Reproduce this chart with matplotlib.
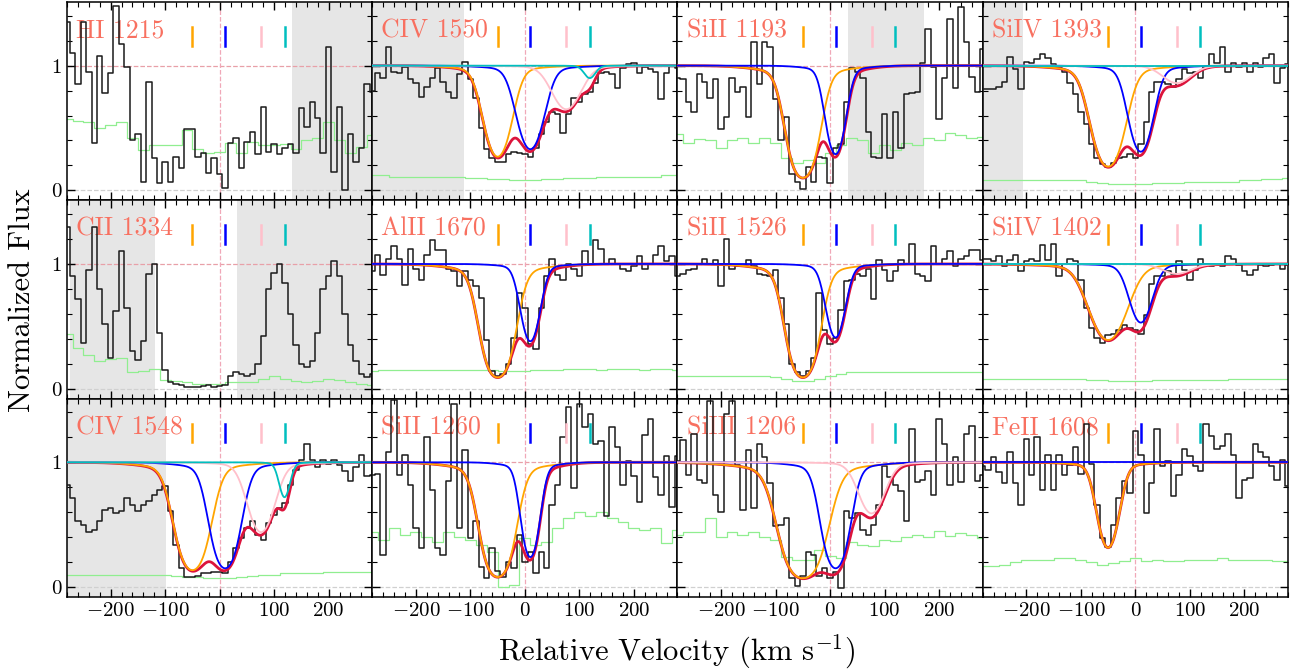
import numpy as np
import matplotlib
matplotlib.use("Agg")
import matplotlib.pyplot as plt
from matplotlib.ticker import MultipleLocator

plt.rcParams['font.family'] = 'cmr10'
plt.rcParams['mathtext.fontset'] = 'cm'
plt.rcParams['axes.formatter.use_mathtext'] = True

# velocity bins of the spectra (km/s)
VEL = np.arange(-280, 281, 10)
VEL_ERR = np.arange(-280, 281, 20)

# component velocities and colours (tick marks + fit components)
COMP_V = [-50, 10, 76, 119]
COMP_COLORS = ['orange', 'blue', 'pink', 'c']

# normalized flux, one list per transition
HI1215_FLUX = [1.35, 1.10, 0.85, 1.35, 0.95, 0.38, 1.08, 0.78, 0.94, 1.48, 1.17, 0.99, 0.40, 0.45, 0.07, 0.87, 0.26, 0.06, 0.23,
               0.07, 0.27, 0.18, 0.49, 0.49, 0.27, 0.30, 0.14, 0.26, 0.13, 0.02, 0.38, 0.42, 0.18, 0.39, 0.47, 0.29, 0.67, 0.31,
               0.37, 0.29, 0.34, 0.37, 0.30, 0.66, 0.51, 0.71, 0.58, 0.30, 1.15, 0.15, 0.67, 0.00, 0.45, 0.23, 0.34, 0.85, 0.79]
CIV1550_FLUX = [0.80, 0.94, 0.90, 1.15, 0.95, 0.94, 0.99, 0.89, 0.86, 0.75, 0.83, 0.90, 0.98, 0.87, 0.79, 0.74, 0.93, 1.03, 0.89,
                0.74, 0.50, 0.33, 0.26, 0.23, 0.23, 0.29, 0.31, 0.30, 0.29, 0.27, 0.34, 0.45, 0.55, 0.63, 0.61, 0.46, 0.61, 0.74,
                0.71, 0.77, 0.79, 0.86, 0.94, 0.95, 0.93, 0.82, 0.98, 1.01, 1.02, 0.94, 0.99, 0.97, 0.95, 0.73, 0.94, 1.00, 0.98]
SiII1193_FLUX = [0.90, 0.89, 0.71, 0.63, 0.93, 0.87, 0.74, 0.89, 0.49, 0.59, 0.90, 0.79, 0.83, 0.59, 1.19, 0.85, 1.19, 1.15, 0.73,
                 0.40, 0.59, 0.13, 0.07, 0.01, 0.19, 0.07, 0.27, 0.26, 0.06, 0.34, 0.37, 0.71, 0.98, 0.95, 0.90, 0.47, 0.27, 0.26,
                 0.61, 0.26, 0.63, 0.34, 0.77, 0.78, 0.79, 1.02, 1.29, 0.99, 0.57, 0.90, 1.37, 0.82, 1.47, 1.19, 0.91, 0.79, 1.13]
SiIV1393_FLUX = [0.81, 0.81, 0.81, 0.83, 0.87, 1.07, 0.97, 0.81, 1.03, 1.02, 1.05, 1.09, 1.06, 1.01, 0.98, 0.95, 0.86, 0.77, 0.63,
                 0.53, 0.37, 0.26, 0.21, 0.19, 0.22, 0.26, 0.27, 0.29, 0.26, 0.37, 0.55, 0.79, 0.87, 0.87, 0.85, 0.83, 0.89, 0.97,
                 0.94, 0.95, 0.90, 0.99, 1.09, 1.02, 1.15, 0.95, 1.02, 0.99, 1.02, 0.95, 1.02, 0.99, 1.06, 1.09, 0.86, 0.98, 1.01]
CII1334_FLUX = [1.30, 0.90, 0.72, 0.37, 0.95, 1.30, 0.80, 0.52, 0.25, 0.62, 1.10, 0.65, 0.30, 0.23, 0.38, 0.92, 1.00, 0.45, 0.15,
                0.05, 0.04, 0.03, 0.01, 0.01, 0.01, 0.02, 0.03, 0.01, 0.02, 0.03, 0.10, 0.13, 0.12, 0.10, 0.12, 0.20, 0.42, 0.80,
                0.93, 1.00, 0.85, 0.60, 0.35, 0.20, 0.17, 0.22, 0.45, 0.80, 0.90, 1.02, 0.90, 0.60, 0.35, 0.22, 0.12, 0.09, 0.12]
AlII1670_FLUX = [0.94, 1.07, 0.91, 1.04, 1.14, 1.04, 0.83, 1.12, 0.96, 0.87, 1.07, 1.19, 1.11, 1.11, 0.96, 0.94, 0.82, 0.94, 0.87,
                 0.82, 0.73, 0.39, 0.14, 0.10, 0.12, 0.20, 0.41, 0.77, 0.65, 0.36, 0.32, 0.65, 0.90, 1.04, 0.91, 0.87, 1.00, 0.96,
                 0.90, 1.10, 1.00, 1.19, 1.12, 1.00, 1.04, 1.00, 0.96, 0.94, 0.98, 1.06, 0.96, 1.00, 1.07, 1.14, 1.02, 1.06, 0.90]
SiII1526_FLUX = [0.90, 0.92, 0.95, 0.96, 1.00, 1.04, 1.00, 1.03, 0.82, 1.20, 0.96, 0.98, 0.98, 1.03, 0.98, 0.92, 0.91, 0.90, 0.95,
                 0.73, 0.52, 0.20, 0.13, 0.10, 0.14, 0.25, 0.77, 0.47, 0.36, 0.41, 0.63, 0.86, 0.87, 0.92, 0.90, 0.96, 0.72, 1.03,
                 0.95, 0.86, 0.94, 1.03, 1.00, 1.16, 0.92, 0.90, 0.86, 1.14, 1.00, 1.04, 1.10, 0.98, 1.04, 1.06, 1.11, 1.11, 1.03]
SiIV1402_FLUX = [1.04, 1.04, 1.02, 1.06, 0.98, 1.03, 1.07, 0.94, 1.02, 1.04, 1.02, 1.15, 1.03, 1.16, 0.90, 1.00, 1.04, 1.02, 0.87,
                 0.65, 0.49, 0.41, 0.37, 0.43, 0.44, 0.47, 0.51, 0.49, 0.47, 0.44, 0.59, 0.84, 0.90, 0.90, 0.94, 0.92, 1.02, 0.95,
                 0.87, 0.95, 1.04, 1.00, 0.98, 0.99, 0.98, 1.06, 1.04, 0.99, 0.94, 0.91, 0.95, 0.99, 0.98, 0.99, 1.00, 0.96, 0.99]
CIV1548_FLUX = [0.82, 0.71, 0.53, 0.50, 0.44, 0.46, 0.53, 0.62, 0.63, 0.59, 0.61, 0.71, 0.66, 0.61, 0.66, 0.69, 0.74, 0.78, 0.81,
                0.61, 0.34, 0.15, 0.08, 0.08, 0.09, 0.11, 0.11, 0.12, 0.12, 0.11, 0.20, 0.31, 0.39, 0.47, 0.53, 0.42, 0.38, 0.51,
                0.58, 0.63, 0.67, 0.82, 0.94, 1.02, 1.15, 1.02, 0.96, 1.02, 0.99, 1.02, 0.98, 0.93, 0.85, 0.96, 1.06, 0.89, 0.90]
SiII1260_FLUX = [0.90, 0.91, 0.26, 1.08, 1.50, 0.90, 1.06, 0.82, 0.47, 0.31, 1.20, 0.78, 0.31, 0.26, 0.85, 1.47, 0.47, 1.10, 0.39,
                 0.53, 0.16, 0.07, 0.31, 0.13, 0.08, 0.20, 0.15, 0.42, 0.20, 0.28, 0.11, 0.28, 0.15, 0.66, 0.82, 1.20, 1.44, 0.79,
                 1.47, 1.28, 1.39, 1.15, 1.17, 0.57, 1.28, 1.12, 0.82, 1.01, 0.89, 0.68, 1.22, 1.35, 0.88, 0.74, 1.05, 0.64, 1.05]
SiIII1206_FLUX = [1.01, 1.18, 0.90, 1.23, 0.86, 0.83, 1.49, 0.74, 0.60, 1.39, 1.49, 0.98, 0.62, 1.10, 0.63, 1.15, 1.04, 0.83, 0.49,
                  0.50, 0.55, 0.07, 0.01, 0.09, 0.28, 0.26, 0.09, 0.15, 0.07, 0.12, -0.01, 0.61, 0.55, 0.59, 0.46, 0.42, 0.50, 0.66,
                  0.97, 0.88, 0.82, 0.77, 0.53, 1.27, 0.84, 0.86, 0.93, 0.74, 1.35, 1.15, 0.82, 1.04, 0.84, 1.23, 1.29, 0.85, 0.90]
FeII1608_FLUX = [0.97, 0.94, 1.04, 0.92, 0.83, 1.08, 0.83, 0.66, 1.19, 0.90, 1.20, 0.78, 1.06, 0.78, 1.06, 0.90, 0.98, 1.12, 0.91,
                 1.31, 0.99, 0.66, 0.39, 0.32, 0.50, 0.71, 0.85, 0.75, 1.25, 1.06, 0.59, 0.83, 1.27, 0.97, 1.01, 0.73, 0.90, 1.11,
                 1.05, 0.97, 0.93, 1.31, 1.21, 1.11, 1.13, 1.23, 1.06, 0.71, 0.86, 0.87, 1.15, 1.08, 1.04, 0.97, 0.86, 1.02, 0.81]

# flux errors (20 km/s bins)
HI1215_ERR = [0.57, 0.56, 0.55, 0.50, 0.52, 0.55, 0.42, 0.32, 0.36, 0.36, 0.36, 0.48, 0.33, 0.30, 0.31,
              0.38, 0.30, 0.39, 0.36, 0.36, 0.37, 0.33, 0.40, 0.42, 0.55, 0.40, 0.30, 0.35, 0.44]
CIV1550_ERR = [0.12, 0.12, 0.11, 0.11, 0.11, 0.11, 0.11, 0.11, 0.11, 0.10, 0.10, 0.09, 0.09, 0.08, 0.08,
               0.08, 0.09, 0.09, 0.10, 0.10, 0.10, 0.11, 0.11, 0.11, 0.11, 0.11, 0.11, 0.12, 0.12]
SiII1193_ERR = [0.45, 0.38, 0.41, 0.40, 0.34, 0.40, 0.42, 0.38, 0.42, 0.38, 0.26, 0.22, 0.24, 0.22, 0.30,
                0.36, 0.42, 0.40, 0.30, 0.36, 0.32, 0.38, 0.36, 0.42, 0.40, 0.46, 0.44, 0.42, 0.43]
SiIV1393_ERR = [0.08, 0.08, 0.08, 0.08, 0.08, 0.08, 0.08, 0.08, 0.08, 0.08, 0.07, 0.06, 0.05, 0.05, 0.05,
                0.05, 0.06, 0.06, 0.06, 0.07, 0.07, 0.07, 0.07, 0.07, 0.08, 0.08, 0.09, 0.09, 0.10]
CII1334_ERR = [0.44, 0.33, 0.27, 0.22, 0.24, 0.25, 0.13, 0.14, 0.16, 0.07, 0.06, 0.05, 0.04, 0.04, 0.04,
               0.05, 0.05, 0.05, 0.08, 0.10, 0.08, 0.06, 0.05, 0.06, 0.08, 0.07, 0.05, 0.04, 0.03]
AlII1670_ERR = [0.14, 0.15, 0.15, 0.15, 0.15, 0.15, 0.15, 0.15, 0.15, 0.15, 0.15, 0.15, 0.14, 0.14, 0.14,
                0.15, 0.15, 0.15, 0.16, 0.16, 0.16, 0.15, 0.16, 0.16, 0.16, 0.15, 0.16, 0.16, 0.15]
SiII1526_ERR = [0.10, 0.10, 0.10, 0.10, 0.10, 0.10, 0.10, 0.10, 0.10, 0.09, 0.08, 0.06, 0.06, 0.08, 0.10,
                0.12, 0.13, 0.13, 0.13, 0.13, 0.13, 0.13, 0.13, 0.13, 0.13, 0.13, 0.13, 0.13, 0.13]
SiIV1402_ERR = [0.08, 0.08, 0.08, 0.08, 0.08, 0.08, 0.08, 0.08, 0.08, 0.08, 0.07, 0.07, 0.06, 0.06, 0.06,
                0.06, 0.07, 0.07, 0.07, 0.07, 0.07, 0.07, 0.07, 0.08, 0.08, 0.08, 0.08, 0.08, 0.08]
CIV1548_ERR = [0.10, 0.10, 0.10, 0.10, 0.10, 0.10, 0.10, 0.10, 0.10, 0.10, 0.09, 0.08, 0.08, 0.07, 0.07,
               0.07, 0.08, 0.09, 0.10, 0.10, 0.11, 0.11, 0.11, 0.11, 0.12, 0.12, 0.12, 0.12, 0.12]
SiII1260_ERR = [0.44, 0.38, 0.47, 0.42, 0.44, 0.40, 0.36, 0.44, 0.40, 0.38, 0.34, 0.28, 0.00, 0.02, 0.39,
                0.34, 0.36, 0.47, 0.55, 0.60, 0.57, 0.60, 0.55, 0.52, 0.47, 0.46, 0.47, 0.35, 0.46]
SiIII1206_ERR = [0.42, 0.44, 0.44, 0.55, 0.40, 0.44, 0.42, 0.44, 0.40, 0.38, 0.24, 0.22, 0.22, 0.30, 0.25,
                 0.23, 0.36, 0.34, 0.33, 0.38, 0.37, 0.40, 0.42, 0.40, 0.45, 0.41, 0.43, 0.42, 0.39]
FeII1608_ERR = [0.17, 0.17, 0.18, 0.20, 0.22, 0.22, 0.22, 0.23, 0.23, 0.22, 0.20, 0.18, 0.19, 0.21, 0.23,
                0.21, 0.22, 0.21, 0.21, 0.22, 0.22, 0.22, 0.23, 0.22, 0.22, 0.22, 0.22, 0.21, 0.21]

# fit components: (minimum flux, width b in km/s) for orange, blue, pink, cyan; None = not fitted
CIV1550_FIT = [(0.27, 29), (0.33, 29), (0.65, 34), (0.90, 14)]
SiII1193_FIT = [(0.10, 30), (0.29, 21), None, None]
SiIV1393_FIT = [(0.19, 33), (0.31, 26), (0.86, 35), (1.0, 14)]
AlII1670_FIT = [(0.09, 31), (0.38, 21), None, None]
SiII1526_FIT = [(0.09, 30), (0.41, 21), None, None]
SiIV1402_FIT = [(0.39, 41), (0.53, 26), (0.92, 35), (1.0, 14)]
CIV1548_FIT = [(0.135, 33), (0.15, 29), (0.44, 30), (0.72, 13)]
SiII1260_FIT = [(0.08, 31), (0.24, 19), None, None]
SiIII1206_FIT = [(0.07, 41), (0.15, 27), (0.59, 30), None]
FeII1608_FIT = [(0.315, 23), (1.0, 20), None, None]

# masked (blended) velocity ranges
HI1215_MASK = [(133, 280)]
CIV1550_MASK = [(-280, -112)]
SiII1193_MASK = [(33, 173)]
SiIV1393_MASK = [(-280, -207)]
CII1334_MASK = [(-275, -119), (32, 280)]
CIV1548_MASK = [(-280, -99)]

PANELS = [
    ('HI 1215', HI1215_FLUX, HI1215_ERR, None, HI1215_MASK),
    ('CIV 1550', CIV1550_FLUX, CIV1550_ERR, CIV1550_FIT, CIV1550_MASK),
    ('SiII 1193', SiII1193_FLUX, SiII1193_ERR, SiII1193_FIT, SiII1193_MASK),
    ('SiIV 1393', SiIV1393_FLUX, SiIV1393_ERR, SiIV1393_FIT, SiIV1393_MASK),
    ('CII 1334', CII1334_FLUX, CII1334_ERR, None, CII1334_MASK),
    ('AlII 1670', AlII1670_FLUX, AlII1670_ERR, AlII1670_FIT, []),
    ('SiII 1526', SiII1526_FLUX, SiII1526_ERR, SiII1526_FIT, []),
    ('SiIV 1402', SiIV1402_FLUX, SiIV1402_ERR, SiIV1402_FIT, []),
    ('CIV 1548', CIV1548_FLUX, CIV1548_ERR, CIV1548_FIT, CIV1548_MASK),
    ('SiII 1260', SiII1260_FLUX, SiII1260_ERR, SiII1260_FIT, []),
    ('SiIII 1206', SiIII1206_FLUX, SiIII1206_ERR, SiIII1206_FIT, []),
    ('FeII 1608', FeII1608_FLUX, FeII1608_ERR, FeII1608_FIT, []),
]


def component(v, v0, fmin, b):
    # optical depth profile with weak extended wings (LSF)
    tau0 = -np.log(fmin)
    x = (v - v0) / b
    tau = tau0 * (0.97 * np.exp(-x ** 2) + 0.03 * np.exp(-(x / 3.0) ** 2))
    return np.exp(-tau)


fig, axes = plt.subplots(3, 4, figsize=(13.02, 6.71), dpi=100, sharex=True, sharey=True)
fig.subplots_adjust(left=0.0515, right=0.9892, top=0.997, bottom=0.1103, wspace=0, hspace=0)

v_fine = np.linspace(-280, 280, 800)

for ax, (name, flux, err, fit, mask) in zip(axes.flat, PANELS):
    for lo, hi in mask:
        ax.axvspan(lo, hi, color='#e6e6e6', lw=0, zorder=0)
    ax.axhline(1, color='#e8a0a8', ls='--', lw=0.9, zorder=1)
    ax.axhline(0, color='#d0d0d0', ls='--', lw=0.9, zorder=1)
    ax.axvline(0, color='#f0a8b8', ls='--', lw=0.9, zorder=1)

    ax.text(0.03, 0.855, name, transform=ax.transAxes, color='#f87060',
            fontsize=18.5, va='center', ha='left', zorder=1.5)

    ax.plot(VEL_ERR, err, drawstyle='steps-mid', color='#90ee90', lw=0.9, zorder=2)
    ax.plot(VEL, flux, drawstyle='steps-mid', color='#1a1a1a', lw=1.1, zorder=3)

    if fit is not None:
        total = np.ones_like(v_fine)
        comps = []
        for v0, par, col in zip(COMP_V, fit, COMP_COLORS):
            if par is None:
                continue
            f = component(v_fine, v0, par[0], par[1])
            total = total * f
            comps.append((f, col))
        ax.plot(v_fine, total, color='crimson', lw=2.0, zorder=4)
        for f, col in comps:
            ax.plot(v_fine, f, color=col, lw=1.3, zorder=5)

    for v0, col in zip(COMP_V, COMP_COLORS):
        ax.plot([v0, v0], [1.16, 1.31], color=col, lw=1.8, zorder=6)

    ax.set_xlim(-280, 280)
    ax.set_ylim(-0.08, 1.51)
    ax.xaxis.set_major_locator(MultipleLocator(100))
    ax.xaxis.set_minor_locator(MultipleLocator(20))
    ax.yaxis.set_major_locator(MultipleLocator(1))
    ax.yaxis.set_minor_locator(MultipleLocator(0.2))
    ax.tick_params(which='both', direction='in', top=True, right=True, labelsize=15)
    ax.tick_params(which='major', length=6, width=1)
    ax.tick_params(which='minor', length=3.5, width=0.8)
    for sp in ax.spines.values():
        sp.set_linewidth(1.1)

fig.text(0.017, 0.553, 'Normalized Flux', rotation=90, ha='center', va='center', fontsize=22)
fig.text(0.52, 0.028, r'Relative Velocity (km s$^{-1}$)', ha='center', va='center', fontsize=22)

fig.savefig('out.png', dpi=100)
